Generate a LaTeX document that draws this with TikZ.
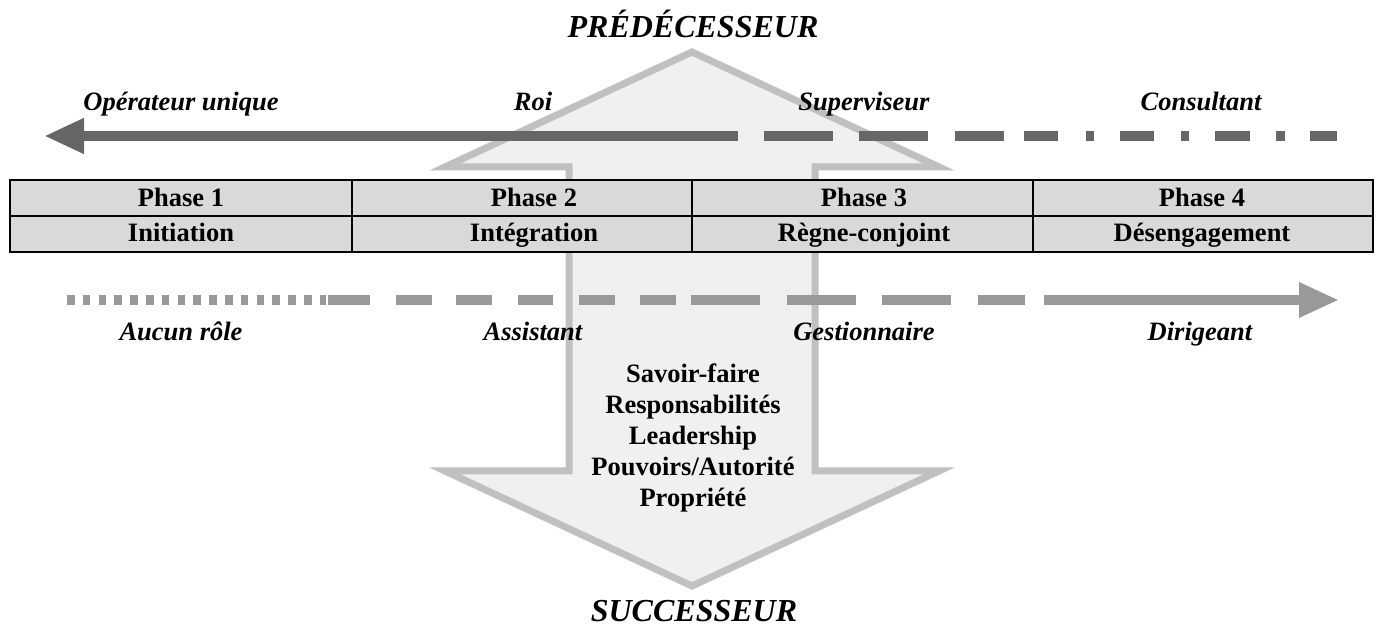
\documentclass[tikz,border=0pt]{standalone}
\usepackage{fontspec}
\setmainfont{Liberation Serif}
\usetikzlibrary{arrows.meta}
\definecolor{topgray}{HTML}{666666}
\definecolor{botgray}{HTML}{999999}
\definecolor{arrowedge}{HTML}{C0C0C0}
\definecolor{arrowfill}{HTML}{F0F0F0}
\definecolor{cellfill}{HTML}{D9D9D9}
\begin{document}
\begin{tikzpicture}[x=0.5pt,y=-0.5pt,
  lab/.style={font=\fontsize{13.25}{15.5}\selectfont\bfseries\itshape, inner sep=0pt, text height=0.7em, text depth=0.22em},
  celltext/.style={font=\fontsize{13.25}{15.5}\selectfont\bfseries, inner sep=0pt, text height=0.7em, text depth=0.22em},
  itemtext/.style={font=\fontsize{13.25}{15.5}\selectfont\bfseries, inner sep=0pt, align=center},
  titletext/.style={font=\fontsize{16}{19}\selectfont\bfseries\itshape, inner sep=0pt, anchor=base},
  bigarrow/.style={draw=arrowedge, fill=arrowfill, line width=3.5pt, line join=miter},
  tableline/.style={draw=black, line width=1.4pt},
  topline/.style={draw=topgray, line width=5pt},
  botline/.style={draw=botgray, line width=4.6pt},
  headtip/.style={-{Triangle[length=20pt,width=16.5pt]}}
]
\useasboundingbox (0,0) rectangle (1377,625);

% double arrow
\draw[bigarrow] (692,52) -- (939,167) -- (815,167) -- (815,471) -- (939,471)
  -- (692,586) -- (445,471) -- (569,471) -- (569,167) -- (445,167) -- cycle;

% table
\fill[cellfill] (10,180) rectangle (1373,252);
\draw[tableline] (10,180) rectangle (1373,252);
\draw[tableline] (10,216) -- (1373,216);
\foreach \x in {352,692,1033} \draw[tableline] (\x,180) -- (\x,252);

\node[celltext] (p1) at (181,202) {Phase 1};
\node[celltext] (p2) at (534,202) {Phase 2};
\node[celltext] (p3) at (864,202) {Phase 3};
\node[celltext] (p4) at (1202,202) {Phase 4};
\node[celltext] (n1) at (181,237) {Initiation};
\node[celltext] (n2) at (534,237) {Intégration};
\node[celltext] (n3) at (864,237) {Règne-conjoint};
\node[celltext] (n4) at (1202,237) {Désengagement};

% top line (predecessor roles)
\coordinate (ts) at (738,136);
\coordinate (te) at (44,136);
\draw[topline, headtip, fill=topgray] (ts) -- (te);
\foreach \a/\b in {764/833, 859/928, 955/1004, 1024/1058, 1086/1094, 1120/1154, 1181/1189, 1215/1250, 1276/1285, 1310/1337}
  \draw[topline] (\a,136) -- (\b,136);

\node[lab] (r1) at (181,106) {Opérateur unique};
\node[lab] (r2) at (533,106) {Roi};
\node[lab] (r3) at (864,106) {Superviseur};
\node[lab] (r4) at (1201,106) {Consultant};

% bottom line (successor roles)
\draw[botline, dash pattern=on 3.8pt off 4.1pt] (67,300) -- (326,300);
\foreach \a/\b in {328/370, 396/432, 456/492, 518/553, 579/615, 640/676, 691/760, 787/856, 882/951, 978/1025}
  \draw[botline] (\a,300) -- (\b,300);
\coordinate (bs) at (1044,300);
\coordinate (be) at (1339,300);
\draw[botline, headtip, fill=botgray] (bs) -- (be);

\node[lab] (s1) at (181,336) {Aucun rôle};
\node[lab] (s2) at (533,336) {Assistant};
\node[lab] (s3) at (864,336) {Gestionnaire};
\node[lab] (s4) at (1200,336) {Dirigeant};

% titles
\node[titletext] (pred) at (693,38) {PRÉDÉCESSEUR};
\node[titletext] (succ) at (694,621) {SUCCESSEUR};

% transferred items
\node[itemtext] (items) at (693,438) {Savoir-faire\\Responsabilités\\Leadership\\Pouvoirs/Autorité\\Propriété};
\end{tikzpicture}
\end{document}
